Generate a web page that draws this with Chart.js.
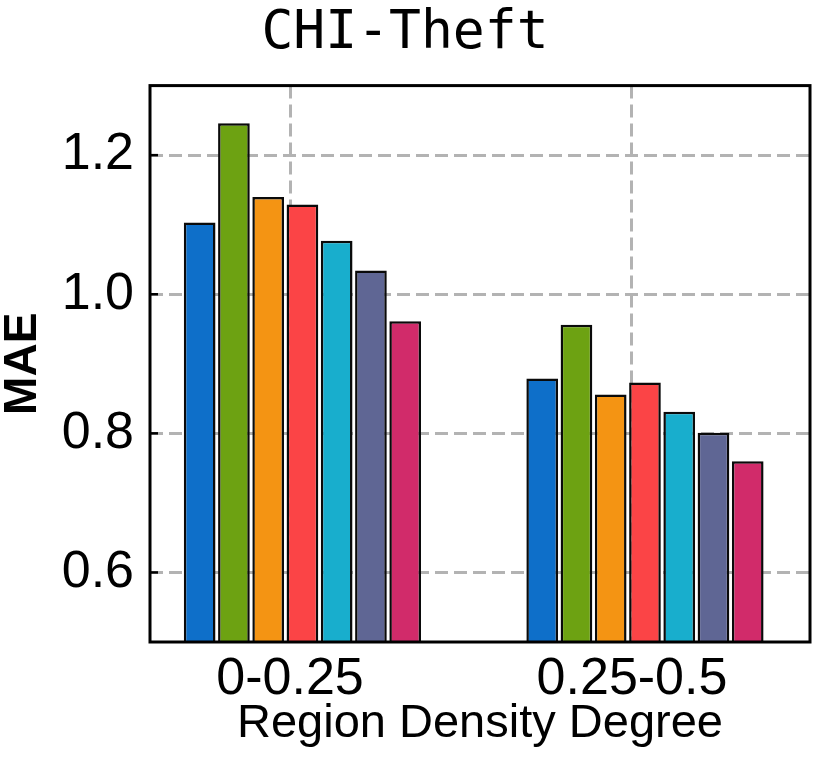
<!DOCTYPE html>
<html>
<head>
<meta charset="utf-8">
<script src="https://cdn.jsdelivr.net/npm/chart.js@4.4.0/dist/chart.umd.min.js"></script>
<style>
  html, body { margin: 0; padding: 0; background: #fff; }
  #wrap { width: 832px; height: 763px; }
</style>
</head>
<body>
<div id="wrap"><canvas id="c" width="832" height="763"></canvas></div>
<script>
// ---- data ----
const categories = ['0-0.25', '0.25-0.5'];
const series1 = [1.103, 0.879];
const series2 = [1.246, 0.956];
const series3 = [1.140, 0.856];
const series4 = [1.129, 0.873];
const series5 = [1.077, 0.831];
const series6 = [1.034, 0.801];
const series7 = [0.961, 0.760];
const yTicks = [0.6, 0.8, 1.0, 1.2];
const titleText = 'CHI-Theft';
const xTitle = 'Region Density Degree';
const yTitle = 'MAE';

// ---- styling ----
const colors = ['#0E6FC9', '#6DA212', '#F49413', '#FB4446', '#18AECD', '#5F6694', '#D12B6A'];
const seriesList = [series1, series2, series3, series4, series5, series6, series7];
const seriesNames = ['Method 1', 'Method 2', 'Method 3', 'Method 4', 'Method 5', 'Method 6', 'Method 7'];
const gridColor = '#b3b3b3';
const gridDash = [13, 6];

const datasets = seriesList.map((vals, k) => ({
  label: seriesNames[k],
  data: vals.map((v, i) => ({ x: i, y: v })),
  backgroundColor: colors[k],
  borderColor: '#0a0a0a',
  borderWidth: 2.5,
  borderSkipped: false,
  xAxisID: 'xb',
  categoryPercentage: 0.70,
  barPercentage: 0.925
}));

const categoryTicks = () => categories.map((c, i) => ({ value: i }));

const framePlugin = {
  id: 'frame',
  afterDatasetsDraw(chart) {
    const { ctx, chartArea: a, scales } = chart;
    ctx.save();
    ctx.strokeStyle = '#000';
    ctx.lineWidth = 2.5;
    yTicks.forEach(t => {
      const y = scales.y.getPixelForValue(t);
      ctx.beginPath();
      ctx.moveTo(a.left, y);
      ctx.lineTo(a.left + 8, y);
      ctx.stroke();
    });
    ctx.lineWidth = 3;
    ctx.strokeRect(a.left, a.top, a.right - a.left, a.bottom - a.top);
    ctx.restore();
  }
};

new Chart(document.getElementById('c'), {
  type: 'bar',
  data: { datasets },
  options: {
    responsive: false,
    animation: false,
    devicePixelRatio: 1,
    layout: { padding: { left: 0, right: 22, top: 0, bottom: 0 } },
    plugins: {
      legend: { display: false },
      tooltip: { enabled: false },
      title: {
        display: true,
        text: titleText,
        color: '#000',
        font: { family: '"DejaVu Sans Mono", monospace', size: 53, weight: 'normal', lineHeight: 1.2 },
        padding: { top: 2, bottom: 20 }
      }
    },
    scales: {
      xb: {
        type: 'linear',
        display: false,
        offset: false,
        grid: { offset: false },
        min: -0.445,
        max: 1.4818,
        afterBuildTicks: s => { s.ticks = categoryTicks(); }
      },
      x: {
        type: 'linear',
        position: 'bottom',
        offset: false,
        min: -0.4094,
        max: 1.5205,
        afterBuildTicks: s => { s.ticks = categoryTicks(); },
        afterFit: s => { s.height = 121; },
        grid: { display: true, offset: false, color: gridColor, lineWidth: 3, drawTicks: false },
        border: { display: false, dash: gridDash },
        ticks: {
          color: '#000',
          padding: 6,
          font: { family: '"Liberation Sans", Arial, sans-serif', size: 52 },
          callback: (v) => categories[v] !== undefined ? categories[v] : ''
        },
        title: {
          display: true,
          text: xTitle,
          color: '#000',
          font: { family: '"Liberation Sans", Arial, sans-serif', size: 47 },
          padding: { top: 0, bottom: 11 }
        }
      },
      y: {
        type: 'linear',
        min: 0.5,
        max: 1.3,
        afterBuildTicks: s => { s.ticks = yTicks.map(v => ({ value: v })); },
        afterFit: s => { s.width = 150; },
        grid: { display: true, color: gridColor, lineWidth: 3, drawTicks: false },
        border: { display: false, dash: gridDash },
        ticks: {
          color: '#000',
          padding: 16,
          font: { family: '"Liberation Sans", Arial, sans-serif', size: 52 },
          callback: v => Number(v).toFixed(1)
        },
        title: {
          display: true,
          text: yTitle,
          color: '#000',
          font: { family: '"Liberation Sans", Arial, sans-serif', size: 46, weight: 'bold', lineHeight: 1.0 },
          padding: { top: 0, bottom: 0 }
        }
      }
    }
  },
  plugins: [framePlugin]
});
</script>
</body>
</html>
